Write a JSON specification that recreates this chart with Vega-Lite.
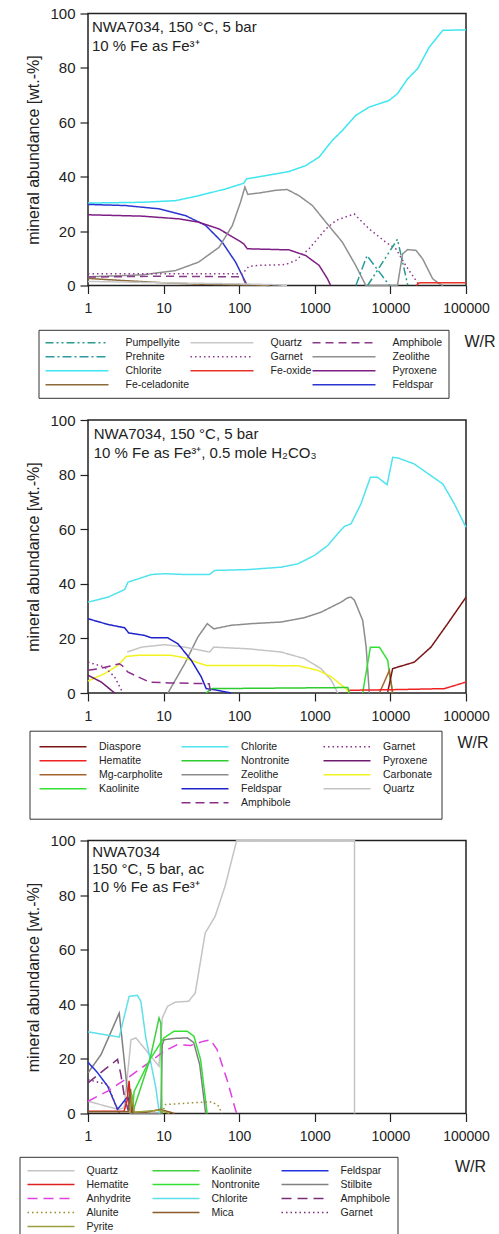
{
  "$schema": "https://vega.github.io/schema/vega-lite/v6.json",
  "padding": {"left": 18, "top": 5.5, "right": 2, "bottom": 2},
  "spacing": 12.5,
  "bounds": "full",
  "config": {
    "font": "Liberation Sans",
    "view": {"stroke": "#222", "strokeWidth": 1.5},
    "axis": {"grid": false, "domain": false, "labelFlush": false, "tickColor": "#222", "tickSize": 8, "tickWidth": 1.2, "labelColor": "#222", "titleColor": "#222", "labelFont": "Liberation Sans", "titleFont": "Liberation Sans", "titleFontWeight": "normal"},
    "legend": {"labelFont": "Liberation Sans", "labelFontSize": 10.5, "labelColor": "#222", "strokeColor": "#333", "symbolType": "stroke", "symbolStrokeWidth": 1.5, "rowPadding": 0, "clipHeight": 13.7, "gridAlign": "each"},
    "line": {"strokeWidth": 1.5}
  },
  "resolve": {"scale": {"color": "independent", "strokeDash": "independent", "x": "independent", "y": "independent"}, "legend": {"color": "independent", "strokeDash": "independent"}},
  "datasets": {
    "p1": [
      {"m":"Chlorite","W":1,"v":30.3},{"m":"Chlorite","W":5.2,"v":30.6},{"m":"Chlorite","W":14.4,"v":31.2},{"m":"Chlorite","W":29,"v":33},{"m":"Chlorite","W":66,"v":35.5},{"m":"Chlorite","W":115,"v":37.6},{"m":"Chlorite","W":125,"v":39.2},{"m":"Chlorite","W":224,"v":40.4},{"m":"Chlorite","W":457,"v":41.9},{"m":"Chlorite","W":760,"v":44.1},{"m":"Chlorite","W":1140,"v":47.2},{"m":"Chlorite","W":1700,"v":53.3},{"m":"Chlorite","W":2320,"v":57},{"m":"Chlorite","W":3470,"v":62.5},{"m":"Chlorite","W":5240,"v":65.6},{"m":"Chlorite","W":9570,"v":68},{"m":"Chlorite","W":12400,"v":70.5},{"m":"Chlorite","W":16900,"v":76},{"m":"Chlorite","W":22900,"v":79.7},{"m":"Chlorite","W":32600,"v":87.6},{"m":"Chlorite","W":49300,"v":93.8},{"m":"Chlorite","W":100000,"v":94},
      {"m":"Feldspar","W":1,"v":29.8},{"m":"Feldspar","W":3.1,"v":29.4},{"m":"Feldspar","W":8.6,"v":28.2},{"m":"Feldspar","W":19.5,"v":25.7},{"m":"Feldspar","W":35.9,"v":22.1},{"m":"Feldspar","W":59.7,"v":15.9},{"m":"Feldspar","W":89.6,"v":8.6},{"m":"Feldspar","W":115,"v":2.5},{"m":"Feldspar","W":128,"v":0},
      {"m":"Pyroxene","W":1,"v":26},{"m":"Pyroxene","W":5.2,"v":25.5},{"m":"Pyroxene","W":15.9,"v":24.5},{"m":"Pyroxene","W":29,"v":23.3},{"m":"Pyroxene","W":54,"v":20.8},{"m":"Pyroxene","W":99,"v":16.5},{"m":"Pyroxene","W":115,"v":15.3},{"m":"Pyroxene","W":128,"v":13.5},{"m":"Pyroxene","W":457,"v":13.1},{"m":"Pyroxene","W":760,"v":11},{"m":"Pyroxene","W":1140,"v":7.4},{"m":"Pyroxene","W":1470,"v":2.5},{"m":"Pyroxene","W":1620,"v":0},
      {"m":"Zeolithe","W":1,"v":3.2},{"m":"Zeolithe","W":5.2,"v":3.9},{"m":"Zeolithe","W":14.4,"v":5.5},{"m":"Zeolithe","W":29,"v":8.6},{"m":"Zeolithe","W":54,"v":14},{"m":"Zeolithe","W":81,"v":22},{"m":"Zeolithe","W":104,"v":30.6},{"m":"Zeolithe","W":119,"v":36.2},{"m":"Zeolithe","W":130,"v":33.5},{"m":"Zeolithe","W":183,"v":34},{"m":"Zeolithe","W":304,"v":35},{"m":"Zeolithe","W":430,"v":35.3},{"m":"Zeolithe","W":620,"v":33},{"m":"Zeolithe","W":930,"v":29.4},{"m":"Zeolithe","W":1400,"v":23.3},{"m":"Zeolithe","W":2320,"v":15.9},{"m":"Zeolithe","W":3470,"v":7.4},{"m":"Zeolithe","W":4730,"v":0},{"m":"Zeolithe","W":12400,"v":0},{"m":"Zeolithe","W":14500,"v":11.6},{"m":"Zeolithe","W":16900,"v":13.2},{"m":"Zeolithe","W":21800,"v":12.9},{"m":"Zeolithe","W":26700,"v":9.8},{"m":"Zeolithe","W":36200,"v":2.5},{"m":"Zeolithe","W":44400,"v":0.6},{"m":"Zeolithe","W":50000,"v":0},
      {"m":"Garnet","W":1,"v":4.3},{"m":"Garnet","W":110,"v":4.3},{"m":"Garnet","W":134,"v":7},{"m":"Garnet","W":183,"v":7.4},{"m":"Garnet","W":410,"v":7.7},{"m":"Garnet","W":560,"v":9.2},{"m":"Garnet","W":840,"v":13.5},{"m":"Garnet","W":1400,"v":20.8},{"m":"Garnet","W":1900,"v":23.9},{"m":"Garnet","W":3320,"v":26.3},{"m":"Garnet","W":5240,"v":20.8},{"m":"Garnet","W":8700,"v":15.9},{"m":"Garnet","W":11800,"v":13.5},{"m":"Garnet","W":15900,"v":7.4},{"m":"Garnet","W":21800,"v":1.8},{"m":"Garnet","W":24000,"v":0},
      {"m":"Amphibole","W":1,"v":3.1},{"m":"Amphibole","W":8.6,"v":3.4},{"m":"Amphibole","W":110,"v":3.2},{"m":"Amphibole","W":125,"v":0},
      {"m":"Fe-celadonite","W":1,"v":2.6},{"m":"Fe-celadonite","W":3,"v":1.8},{"m":"Fe-celadonite","W":10,"v":1},{"m":"Fe-celadonite","W":30,"v":0.5},{"m":"Fe-celadonite","W":80,"v":0.3},{"m":"Fe-celadonite","W":200,"v":0.1},{"m":"Fe-celadonite","W":250,"v":0},
      {"m":"Quartz","W":1,"v":1.5},{"m":"Quartz","W":10,"v":1},{"m":"Quartz","W":100,"v":0.6},{"m":"Quartz","W":300,"v":0.3},{"m":"Quartz","W":430,"v":0},
      {"m":"Fe-oxide","W":22000,"v":0},{"m":"Fe-oxide","W":24000,"v":1},{"m":"Fe-oxide","W":100000,"v":1},
      {"m":"Prehnite","W":3500,"v":0},{"m":"Prehnite","W":4900,"v":11},{"m":"Prehnite","W":9700,"v":0},
      {"m":"Pumpellyite","W":5000,"v":0},{"m":"Pumpellyite","W":12400,"v":17},{"m":"Pumpellyite","W":17000,"v":0}
    ],
    "p2": [
      {"m":"Chlorite","W":1,"v":33.3},{"m":"Chlorite","W":1.84,"v":35.1},{"m":"Chlorite","W":3.05,"v":37.9},{"m":"Chlorite","W":3.38,"v":40.6},{"m":"Chlorite","W":4.6,"v":41.8},{"m":"Chlorite","W":6.9,"v":43.4},{"m":"Chlorite","W":10.3,"v":43.7},{"m":"Chlorite","W":19,"v":43.4},{"m":"Chlorite","W":40.5,"v":43.4},{"m":"Chlorite","W":47.2,"v":44.9},{"m":"Chlorite","W":130,"v":45.2},{"m":"Chlorite","W":359,"v":46.1},{"m":"Chlorite","W":596,"v":47.3},{"m":"Chlorite","W":990,"v":50.4},{"m":"Chlorite","W":1480,"v":54},{"m":"Chlorite","W":2000,"v":58.3},{"m":"Chlorite","W":2460,"v":61},{"m":"Chlorite","W":3020,"v":62},{"m":"Chlorite","W":4080,"v":69.3},{"m":"Chlorite","W":5440,"v":79},{"m":"Chlorite","W":6770,"v":79},{"m":"Chlorite","W":9040,"v":76.3},{"m":"Chlorite","W":10720,"v":86.3},{"m":"Chlorite","W":12570,"v":86.1},{"m":"Chlorite","W":20700,"v":83.9},{"m":"Chlorite","W":34400,"v":79.6},{"m":"Chlorite","W":49300,"v":76.6},{"m":"Chlorite","W":70100,"v":69.3},{"m":"Chlorite","W":100000,"v":60.7},
      {"m":"Zeolithe","W":11.4,"v":0},{"m":"Zeolithe","W":19,"v":10.7},{"m":"Zeolithe","W":28.4,"v":20.5},{"m":"Zeolithe","W":37.8,"v":25.4},{"m":"Zeolithe","W":46.2,"v":23.5},{"m":"Zeolithe","W":78,"v":24.8},{"m":"Zeolithe","W":144,"v":25.4},{"m":"Zeolithe","W":359,"v":26},{"m":"Zeolithe","W":730,"v":27.6},{"m":"Zeolithe","W":1210,"v":29.6},{"m":"Zeolithe","W":2230,"v":33.3},{"m":"Zeolithe","W":2730,"v":34.9},{"m":"Zeolithe","W":3020,"v":35.1},{"m":"Zeolithe","W":3340,"v":34},{"m":"Zeolithe","W":4300,"v":26.6},{"m":"Zeolithe","W":4780,"v":16.8},{"m":"Zeolithe","W":5260,"v":0},
      {"m":"Quartz","W":3.3,"v":15},{"m":"Quartz","W":5.1,"v":16.8},{"m":"Quartz","W":10.3,"v":17.7},{"m":"Quartz","W":19,"v":16.8},{"m":"Quartz","W":40.5,"v":15},{"m":"Quartz","W":46,"v":16.8},{"m":"Quartz","W":130,"v":16.2},{"m":"Quartz","W":359,"v":15},{"m":"Quartz","W":730,"v":12.6},{"m":"Quartz","W":1210,"v":8.9},{"m":"Quartz","W":1640,"v":4.8},{"m":"Quartz","W":2010,"v":0},
      {"m":"Carbonate","W":1,"v":4.4},{"m":"Carbonate","W":1.66,"v":7.1},{"m":"Carbonate","W":2.49,"v":10.1},{"m":"Carbonate","W":3.2,"v":13.4},{"m":"Carbonate","W":4.6,"v":13.8},{"m":"Carbonate","W":12.6,"v":13.8},{"m":"Carbonate","W":19,"v":12.9},{"m":"Carbonate","W":28.4,"v":11.1},{"m":"Carbonate","W":36.6,"v":10.1},{"m":"Carbonate","W":52,"v":10.1},{"m":"Carbonate","W":596,"v":10},{"m":"Carbonate","W":1100,"v":8.3},{"m":"Carbonate","W":1640,"v":6},{"m":"Carbonate","W":2230,"v":3},{"m":"Carbonate","W":2600,"v":1.5},{"m":"Carbonate","W":2870,"v":0},
      {"m":"Feldspar","W":1,"v":27.2},{"m":"Feldspar","W":1.84,"v":25.1},{"m":"Feldspar","W":3.05,"v":23.9},{"m":"Feldspar","W":3.45,"v":22},{"m":"Feldspar","W":5.6,"v":21.1},{"m":"Feldspar","W":6.9,"v":20.2},{"m":"Feldspar","W":11.4,"v":20.2},{"m":"Feldspar","W":15.5,"v":18},{"m":"Feldspar","W":23.2,"v":12},{"m":"Feldspar","W":31.5,"v":5.9},{"m":"Feldspar","W":36.6,"v":1.6},{"m":"Feldspar","W":47,"v":1.2},{"m":"Feldspar","W":78,"v":0},
      {"m":"Nontronite","W":36.6,"v":0},{"m":"Nontronite","W":42.7,"v":1.6},{"m":"Nontronite","W":2730,"v":2},{"m":"Nontronite","W":2870,"v":0},
      {"m":"Kaolinite","W":4300,"v":0},{"m":"Kaolinite","W":5440,"v":16.8},{"m":"Kaolinite","W":7160,"v":16.8},{"m":"Kaolinite","W":9220,"v":12},{"m":"Kaolinite","W":9700,"v":7},{"m":"Kaolinite","W":10700,"v":0},
      {"m":"Mg-carpholite","W":7160,"v":0},{"m":"Mg-carpholite","W":9700,"v":8.3},{"m":"Mg-carpholite","W":10700,"v":0},
      {"m":"Diaspore","W":9220,"v":0.4},{"m":"Diaspore","W":10700,"v":8.9},{"m":"Diaspore","W":12500,"v":9.5},{"m":"Diaspore","W":20700,"v":11.3},{"m":"Diaspore","W":34400,"v":16.8},{"m":"Diaspore","W":57200,"v":25.4},{"m":"Diaspore","W":100000,"v":35.1},
      {"m":"Hematite","W":2870,"v":1},{"m":"Hematite","W":10000,"v":1.2},{"m":"Hematite","W":51800,"v":1.6},{"m":"Hematite","W":100000,"v":4},
      {"m":"Amphibole","W":1,"v":8.3},{"m":"Amphibole","W":1.41,"v":8.9},{"m":"Amphibole","W":2.6,"v":10.7},{"m":"Amphibole","W":2.85,"v":10},{"m":"Amphibole","W":3.35,"v":7.7},{"m":"Amphibole","W":6.46,"v":4},{"m":"Amphibole","W":11.9,"v":3.7},{"m":"Amphibole","W":40,"v":3.4},{"m":"Amphibole","W":42,"v":0},
      {"m":"Garnet","W":1,"v":11.3},{"m":"Garnet","W":1.66,"v":9.5},{"m":"Garnet","W":2.25,"v":5.9},{"m":"Garnet","W":2.9,"v":0},
      {"m":"Pyroxene","W":1,"v":6.5},{"m":"Pyroxene","W":1.5,"v":4},{"m":"Pyroxene","W":2.25,"v":0}
    ],
    "p3": [
      {"m":"Quartz","W":1,"v":4.5},{"m":"Quartz","W":2.5,"v":1.5},{"m":"Quartz","W":3.0,"v":2},{"m":"Quartz","W":3.5,"v":20},{"m":"Quartz","W":3.7,"v":27},{"m":"Quartz","W":4.3,"v":27.7},{"m":"Quartz","W":8.7,"v":17.3},{"m":"Quartz","W":9.6,"v":35},{"m":"Quartz","W":11.3,"v":39.3},{"m":"Quartz","W":14.3,"v":40.8},{"m":"Quartz","W":21.4,"v":41.1},{"m":"Quartz","W":26.2,"v":44.1},{"m":"Quartz","W":35.5,"v":66.1},{"m":"Quartz","W":48,"v":72.2},{"m":"Quartz","W":65,"v":83.2},{"m":"Quartz","W":92.6,"v":100},{"m":"Quartz","W":3350,"v":100},{"m":"Quartz","W":3350,"v":0},
      {"m":"Stilbite","W":1,"v":14.9},{"m":"Stilbite","W":1.49,"v":21.6},{"m":"Stilbite","W":2.59,"v":36.8},{"m":"Stilbite","W":3.0,"v":20},{"m":"Stilbite","W":3.5,"v":2},{"m":"Stilbite","W":3.7,"v":0},{"m":"Stilbite","W":9.2,"v":0},{"m":"Stilbite","W":9.6,"v":25},{"m":"Stilbite","W":10.1,"v":27},{"m":"Stilbite","W":13.7,"v":27.5},{"m":"Stilbite","W":20.6,"v":27.7},{"m":"Stilbite","W":25,"v":26},{"m":"Stilbite","W":30,"v":18},{"m":"Stilbite","W":36,"v":0},
      {"m":"Chlorite","W":1,"v":29.9},{"m":"Chlorite","W":2.59,"v":28},{"m":"Chlorite","W":3.5,"v":42.9},{"m":"Chlorite","W":4.5,"v":43.3},{"m":"Chlorite","W":5,"v":41.1},{"m":"Chlorite","W":5.8,"v":28},{"m":"Chlorite","W":7.9,"v":9.4},{"m":"Chlorite","W":8.7,"v":0.9},{"m":"Chlorite","W":8.9,"v":0},
      {"m":"Feldspar","W":1,"v":18.8},{"m":"Feldspar","W":1.34,"v":14.9},{"m":"Feldspar","W":1.82,"v":10},{"m":"Feldspar","W":2.46,"v":1.5},{"m":"Feldspar","W":3.33,"v":6.1},{"m":"Feldspar","W":3.7,"v":3.3},{"m":"Feldspar","W":3.87,"v":0},
      {"m":"Amphibole","W":1,"v":11.2},{"m":"Amphibole","W":1.56,"v":15.5},{"m":"Amphibole","W":2.46,"v":19.8},{"m":"Amphibole","W":2.72,"v":14.3},{"m":"Amphibole","W":3.0,"v":7},{"m":"Amphibole","W":3.33,"v":2},{"m":"Amphibole","W":3.5,"v":0},
      {"m":"Garnet","W":1,"v":12.4},{"m":"Garnet","W":1.82,"v":10.6},{"m":"Garnet","W":2.22,"v":4.5},{"m":"Garnet","W":2.46,"v":1.5},{"m":"Garnet","W":2.6,"v":0},
      {"m":"Anhydrite","W":1,"v":4.5},{"m":"Anhydrite","W":1.82,"v":8.2},{"m":"Anhydrite","W":3.33,"v":13},{"m":"Anhydrite","W":6.76,"v":19.1},{"m":"Anhydrite","W":10.1,"v":22.8},{"m":"Anhydrite","W":15.1,"v":25.2},{"m":"Anhydrite","W":22.7,"v":24.9},{"m":"Anhydrite","W":34,"v":26.5},{"m":"Anhydrite","W":41.7,"v":27},{"m":"Anhydrite","W":51,"v":23.4},{"m":"Anhydrite","W":69,"v":12.4},{"m":"Anhydrite","W":89,"v":1.5},{"m":"Anhydrite","W":93,"v":0},
      {"m":"Kaolinite","W":3.9,"v":0},{"m":"Kaolinite","W":4.07,"v":2},{"m":"Kaolinite","W":6.6,"v":19.8},{"m":"Kaolinite","W":8.7,"v":35},{"m":"Kaolinite","W":9.2,"v":33},{"m":"Kaolinite","W":9.5,"v":0},
      {"m":"Nontronite","W":3.87,"v":0},{"m":"Nontronite","W":4.07,"v":8},{"m":"Nontronite","W":6.6,"v":19.8},{"m":"Nontronite","W":10.1,"v":27.7},{"m":"Nontronite","W":13.7,"v":30.1},{"m":"Nontronite","W":20.6,"v":30.1},{"m":"Nontronite","W":25.2,"v":28.3},{"m":"Nontronite","W":30.8,"v":19.8},{"m":"Nontronite","W":37.7,"v":0},
      {"m":"Hematite","W":1,"v":0.8},{"m":"Hematite","W":3,"v":0.8},{"m":"Hematite","W":3.3,"v":5},{"m":"Hematite","W":3.5,"v":12},{"m":"Hematite","W":3.7,"v":1},{"m":"Hematite","W":4,"v":0},
      {"m":"Mica","W":1,"v":0.6},{"m":"Mica","W":3.4,"v":0.6},{"m":"Mica","W":3.65,"v":9},{"m":"Mica","W":3.9,"v":0.5},{"m":"Mica","W":6,"v":0.5},{"m":"Mica","W":9,"v":1.5},{"m":"Mica","W":10.5,"v":1},{"m":"Mica","W":14,"v":0},
      {"m":"Pyrite","W":3.6,"v":0},{"m":"Pyrite","W":3.8,"v":7},{"m":"Pyrite","W":4.1,"v":0.5},{"m":"Pyrite","W":9,"v":1.2},{"m":"Pyrite","W":12,"v":0},
      {"m":"Alunite","W":9.5,"v":0},{"m":"Alunite","W":10.6,"v":3.3},{"m":"Alunite","W":23.7,"v":3.9},{"m":"Alunite","W":43.8,"v":4.3},{"m":"Alunite","W":53.5,"v":2.7},{"m":"Alunite","W":59,"v":0}
    ]
  },
  "vconcat": [
    {
      "width": 378, "height": 272,
      "layer": [
        {
          "data": {"name": "p1"},
          "mark": {"type": "line"},
          "encoding": {
            "x": {"field": "W", "type": "quantitative", "scale": {"type": "log", "domain": [1, 100000]}, "axis": {"values": [1, 10, 100, 1000, 10000, 100000], "format": "d", "labelFontSize": 14, "labelPadding": 8, "title": "W/R", "titleFontSize": 16, "titleX": 391.5, "titleY": 56.3, "titleAlign": "center", "titleBaseline": "middle"}},
            "y": {"field": "v", "type": "quantitative", "scale": {"domain": [0, 100]}, "axis": {"values": [0, 20, 40, 60, 80, 100], "labelFontSize": 15, "labelPadding": 5, "title": "mineral abundance [wt.-%]", "titleFontSize": 16, "titlePadding": 8}},
            "color": {"field": "m", "type": "nominal", "scale": {"domain": ["Pumpellyite", "Prehnite", "Chlorite", "Fe-celadonite", "Quartz", "Garnet", "Fe-oxide", " ", "Amphibole", "Zeolithe", "Pyroxene", "Feldspar"], "range": ["#2a9a8c", "#2a9aa0", "#3fe5f0", "#8c6a3a", "#c8c8c8", "#8e3a8e", "#e8332a", "rgba(0,0,0,0)", "#8a3a8a", "#8f8f8f", "#7e1e84", "#2b35d0"]}, "legend": {"orient": "none", "legendX": -49.5, "legendY": 316.3, "columns": 3, "direction": "vertical", "title": null, "symbolSize": 3969, "labelOffset": 16, "columnPadding": 0, "padding": 6}},
            "strokeDash": {"field": "m", "type": "nominal", "scale": {"domain": ["Pumpellyite", "Prehnite", "Chlorite", "Fe-celadonite", "Quartz", "Garnet", "Fe-oxide", " ", "Amphibole", "Zeolithe", "Pyroxene", "Feldspar"], "range": [[8, 3, 2, 3, 2, 3], [9, 3, 2, 3], [1, 0], [1, 0], [1, 0], [1.5, 3], [1, 0], [1, 0], [8, 5], [1, 0], [1, 0], [1, 0]]}}
          }
        },
        {
          "data": {"values": [{"t": "NWA7034, 150 °C, 5 bar\n10 % Fe as Fe³⁺"}]},
          "mark": {"type": "text", "align": "left", "baseline": "top", "fontSize": 15, "lineHeight": 19, "lineBreak": "\n", "color": "#222"},
          "encoding": {"x": {"datum": 1.13, "type": "quantitative"}, "y": {"datum": 97.7, "type": "quantitative"}, "text": {"field": "t"}}
        }
      ]
    },
    {
      "width": 378, "height": 273,
      "layer": [
        {
          "data": {"name": "p2"},
          "mark": {"type": "line"},
          "encoding": {
            "x": {"field": "W", "type": "quantitative", "scale": {"type": "log", "domain": [1, 100000]}, "axis": {"values": [1, 10, 100, 1000, 10000, 100000], "format": "d", "labelFontSize": 14, "labelPadding": 8, "title": "W/R", "titleFontSize": 16, "titleX": 384.5, "titleY": 49, "titleAlign": "center", "titleBaseline": "middle"}},
            "y": {"field": "v", "type": "quantitative", "scale": {"domain": [0, 100]}, "axis": {"values": [0, 20, 40, 60, 80, 100], "labelFontSize": 15, "labelPadding": 5, "title": "mineral abundance [wt.-%]", "titleFontSize": 16, "titlePadding": 8}},
            "color": {"field": "m", "type": "nominal", "scale": {"domain": ["Diaspore", "Hematite", "Mg-carpholite", "Kaolinite", " ", "Chlorite", "Nontronite", "Zeolithe", "Feldspar", "Amphibole", "Garnet", "Pyroxene", "Carbonate", "Quartz", "  "], "range": ["#7b1616", "#ee2222", "#a5652e", "#35e035", "rgba(0,0,0,0)", "#4fe3ee", "#2ecc2e", "#8c8c8c", "#1e22c8", "#8a2e8a", "#8a2e8a", "#6e1a6e", "#f2f21e", "#c4c4c4", "rgba(0,0,0,0)"]}, "legend": {"orient": "none", "legendX": -58.5, "legendY": 310.7, "columns": 3, "direction": "vertical", "title": null, "symbolSize": 2209, "labelOffset": 11.5, "columnPadding": 17, "gridAlign": "all", "clipHeight": 13.9, "padding": 9}},
            "strokeDash": {"field": "m", "type": "nominal", "scale": {"domain": ["Diaspore", "Hematite", "Mg-carpholite", "Kaolinite", " ", "Chlorite", "Nontronite", "Zeolithe", "Feldspar", "Amphibole", "Garnet", "Pyroxene", "Carbonate", "Quartz", "  "], "range": [[1, 0], [1, 0], [1, 0], [1, 0], [1, 0], [1, 0], [1, 0], [1, 0], [1, 0], [9, 5], [1.5, 3], [1, 0], [1, 0], [1, 0], [1, 0]]}}
          }
        },
        {
          "data": {"values": [{"t": "NWA7034, 150 °C, 5 bar\n10 % Fe as Fe³⁺, 0.5 mole H₂CO₃"}]},
          "mark": {"type": "text", "align": "left", "baseline": "top", "fontSize": 15, "lineHeight": 19, "lineBreak": "\n", "color": "#222"},
          "encoding": {"x": {"datum": 1.19, "type": "quantitative"}, "y": {"datum": 97.6, "type": "quantitative"}, "text": {"field": "t"}}
        }
      ]
    },
    {
      "width": 378, "height": 273,
      "layer": [
        {
          "data": {"name": "p3"},
          "mark": {"type": "line"},
          "encoding": {
            "x": {"field": "W", "type": "quantitative", "scale": {"type": "log", "domain": [1, 100000]}, "axis": {"values": [1, 10, 100, 1000, 10000, 100000], "format": "d", "labelFontSize": 14, "labelPadding": 8, "title": "W/R", "titleFontSize": 16, "titleX": 382, "titleY": 52.7, "titleAlign": "center", "titleBaseline": "middle"}},
            "y": {"field": "v", "type": "quantitative", "scale": {"domain": [0, 100]}, "axis": {"values": [0, 20, 40, 60, 80, 100], "labelFontSize": 15, "labelPadding": 5, "title": "mineral abundance [wt.-%]", "titleFontSize": 16, "titlePadding": 8}},
            "color": {"field": "m", "type": "nominal", "scale": {"domain": ["Quartz", "Hematite", "Anhydrite", "Alunite", "Pyrite", "Kaolinite", "Nontronite", "Chlorite", "Mica", " ", "Feldspar", "Stilbite", "Amphibole", "Garnet", "  "], "range": ["#c4c4c4", "#e02020", "#e040e0", "#9a8a2a", "#9aa03c", "#3fcf3f", "#33e033", "#5ee0ea", "#8b5a2b", "rgba(0,0,0,0)", "#2233dd", "#808080", "#7a2e7a", "#7a2e7a", "rgba(0,0,0,0)"]}, "legend": {"orient": "none", "legendX": -68.5, "legendY": 316.3, "columns": 3, "direction": "vertical", "title": null, "symbolSize": 2209, "labelOffset": 11, "columnPadding": 20, "clipHeight": 13.6, "padding": 7}},
            "strokeDash": {"field": "m", "type": "nominal", "scale": {"domain": ["Quartz", "Hematite", "Anhydrite", "Alunite", "Pyrite", "Kaolinite", "Nontronite", "Chlorite", "Mica", " ", "Feldspar", "Stilbite", "Amphibole", "Garnet", "  "], "range": [[1, 0], [1, 0], [10, 6], [1.5, 3], [1, 0], [1, 0], [1, 0], [1, 0], [1, 0], [1, 0], [1, 0], [1, 0], [10, 6], [1.5, 3], [1, 0]]}}
          }
        },
        {
          "data": {"values": [{"t": "NWA7034\n150 °C, 5 bar, ac\n10 % Fe as Fe³⁺"}]},
          "mark": {"type": "text", "align": "left", "baseline": "top", "fontSize": 15, "lineHeight": 17.7, "lineBreak": "\n", "color": "#222"},
          "encoding": {"x": {"datum": 1.14, "type": "quantitative"}, "y": {"datum": 98.5, "type": "quantitative"}, "text": {"field": "t"}}
        }
      ]
    }
  ]
}
